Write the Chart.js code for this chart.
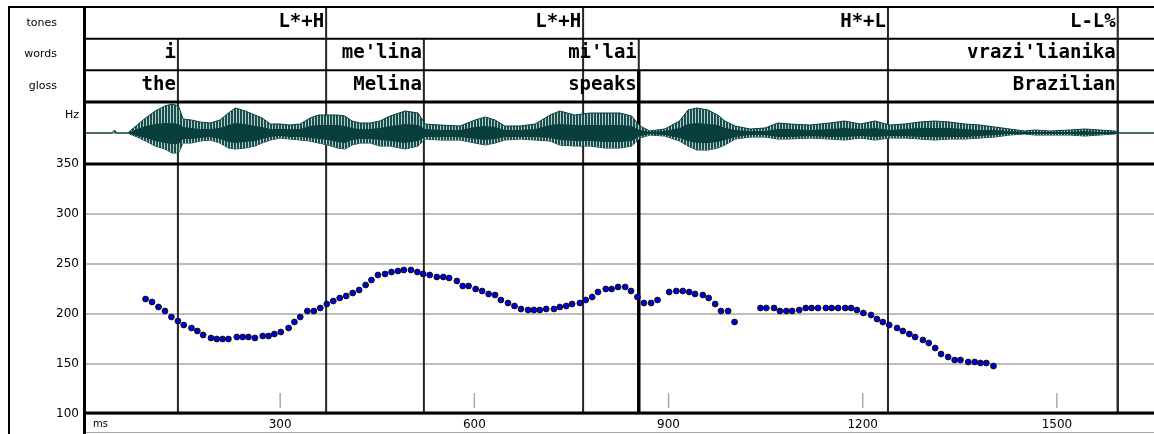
<!DOCTYPE html>
<html>
<head>
<meta charset="utf-8">
<script src="https://cdn.jsdelivr.net/npm/chart.js@4.4.0/dist/chart.umd.min.js"></script>
<style>
  body { margin: 0; background: #fff; }
  #wrap { width: 1154px; height: 434px; }
</style>
</head>
<body>
<div id="wrap"><canvas id="tobi" width="1154" height="434"></canvas></div>
<script>
// annotation tiers (label + end time in ms)
const tierNames = ['tones', 'words', 'gloss'];
const toneLabels = ['L*+H', 'L*+H', 'H*+L', 'L-L%'];
const toneEnds = [371, 768, 1239, 1594];
const wordLabels = ['i', "me'lina", "mi'lai", "vrazi'lianika"];
const wordEnds = [142, 522, 854, 1594];
const glossLabels = ['the', 'Melina', 'speaks', 'Brazilian'];
const glossEnds = [142, 522, 854, 1594];
const phraseBreak = 854;   // drawn heavier from the gloss tier down

// x axis
const msTicks = [300, 600, 900, 1200, 1500];
const hzTicks = [100, 150, 200, 250, 300, 350];

// pitch track
const pitchMs = [92,102,112,122,132,142,151,163,172,181,
  193,202,211,220,233,242,251,261,273,282,
  291,301,313,322,331,342,352,362,372,382,
  392,402,412,422,432,441,451,462,472,482,
  491,502,512,521,531,542,552,561,573,582,
  591,602,612,622,632,641,652,662,672,683,
  692,701,711,723,732,742,751,763,772,782,
  791,803,812,822,833,842,852,862,873,883,
  901,912,922,932,941,953,962,972,981,992,
  1002,1042,1051,1063,1072,1082,1091,1102,1112,1121,
  1131,1143,1152,1162,1173,1182,1191,1201,1213,1222,
  1231,1241,1253,1262,1272,1281,1293,1302,1312,1321,
  1332,1342,1351,1363,1373,1382,1391,1402];
const pitchHz = [215,212,207,203,197,193,189,186,183,179,
  176,175,175,175,177,177,177,176,178,178,
  180,182,186,192,197,203,203,206,210,213,
  216,218,221,224,229,234,239,240,242,243,
  244,244,242,240,239,237,237,236,233,228,
  228,225,223,220,219,214,211,208,205,204,
  204,204,205,205,207,208,210,211,214,217,
  222,225,225,227,227,223,217,211,211,214,
  222,223,223,222,220,219,216,210,203,203,
  192,206,206,206,203,203,203,204,206,206,
  206,206,206,206,206,206,204,201,199,195,
  192,189,186,183,180,177,174,171,166,160,
  157,154,154,152,152,151,151,148];

// waveform envelope (relative amplitude)
const waveMs = [0,40,44,48,65,68,79,92,107,122,
  133,143,150,163,176,192,207,220,231,246,
  261,272,285,300,315,331,346,359,374,389,
  400,411,423,439,454,470,493,513,524,547,
  578,601,617,632,647,671,694,717,732,755,
  779,802,825,843,856,871,894,917,930,944,
  961,976,987,1003,1026,1049,1069,1087,1118,1149,
  1172,1196,1219,1242,1265,1288,1311,1334,1358,1381,
  1404,1427,1450,1466,1489,1520,1543,1566,1589,1597,
  1650];
const wavePeakUp = [0,0,3,0,0,2,8,15,22,27,
  29,27,14,13,11,10,13,20,25,22,
  18,15,9,9,8,9,15,18,18,18,
  17,12,10,10,12,17,22,20,9,8,
  7,13,16,13,7,7,9,18,22,18,
  20,20,20,17,7,2,4,12,23,25,
  23,18,12,7,4,5,10,9,8,10,
  12,9,12,8,9,11,12,11,9,8,
  6,4,2,3,2,3,4,3,2,0,
  0];
const wavePeakDown = [0,0,0,0,0,-1,-4,-8,-13,-16,
  -20,-20,-10,-10,-8,-7,-10,-15,-16,-15,
  -13,-10,-7,-5,-6,-7,-8,-10,-12,-15,
  -16,-12,-10,-10,-13,-13,-16,-13,-6,-7,
  -7,-10,-12,-10,-7,-6,-7,-8,-12,-13,
  -13,-15,-15,-13,-5,-2,-3,-8,-13,-17,
  -17,-15,-12,-6,-4,-4,-6,-6,-5,-6,
  -7,-5,-7,-5,-5,-6,-7,-6,-6,-5,
  -4,-2,-1,-2,-2,-2,-3,-2,-1,0,
  0];
const waveCoreUp = [0,0,0,0,0,1,4,7,9,10,
  10,9,6,5,4,4,5,8,10,9,
  7,6,4,4,4,4,7,8,8,8,
  7,5,4,4,5,7,9,8,4,3,
  3,6,7,6,3,3,4,8,9,8,
  8,8,8,7,3,1,2,5,9,10,
  9,8,5,3,2,2,4,4,3,4,
  5,4,5,3,4,5,5,5,4,3,
  3,2,1,1,1,1,2,1,1,0,
  0];
const waveCoreDown = [0,0,0,0,0,-1,-3,-5,-8,-10,
  -11,-11,-6,-6,-5,-4,-6,-9,-10,-9,
  -8,-6,-4,-3,-4,-4,-5,-6,-7,-9,
  -10,-7,-6,-6,-7,-8,-10,-8,-4,-4,
  -4,-6,-7,-6,-4,-4,-4,-5,-7,-8,
  -8,-9,-9,-8,-3,-1,-2,-5,-8,-10,
  -10,-9,-7,-4,-2,-2,-4,-4,-3,-4,
  -4,-3,-4,-3,-3,-4,-4,-4,-4,-3,
  -2,-1,-1,-1,-1,-1,-2,-1,-1,0,
  0];

const pts = (xs, ys) => xs.map((v, i) => ({x: v, y: ys[i]}));

// striped fill for the glottal pulses
const stripe = document.createElement('canvas');
stripe.width = 3; stripe.height = 1;
const sctx = stripe.getContext('2d');
sctx.fillStyle = '#174f4c'; sctx.fillRect(0, 0, 2, 1);
sctx.fillStyle = '#b9cecd'; sctx.fillRect(2, 0, 1, 1);
const stripes = sctx.createPattern(stripe, 'repeat');

const waveColor = '#083f3d';

// fixed width for the stacked left axes, no auto padding
const fitLeft = s => { s.width = 78; s.paddingTop = 0; s.paddingBottom = 0; };

const frame = {
  id: 'frame',
  beforeDatasetsDraw(chart) {
    const {ctx, chartArea: a, scales} = chart;
    const x = scales.x, t = scales.yTier, p = scales.y, w = scales.yWave;
    const band = (t.bottom - t.top) / tierNames.length;
    ctx.save();
    const hline = (y, x0, x1, lw, col) => {
      ctx.beginPath(); ctx.lineWidth = lw; ctx.strokeStyle = col;
      ctx.moveTo(x0, y); ctx.lineTo(x1, y); ctx.stroke();
    };
    const vline = (xp, y0, y1, lw, col) => {
      ctx.beginPath(); ctx.lineWidth = lw; ctx.strokeStyle = col;
      ctx.moveTo(xp, y0); ctx.lineTo(xp, y1); ctx.stroke();
    };
    // tick marks for ms
    msTicks.forEach(v => vline(x.getPixelForValue(v), p.bottom - 21, p.bottom - 6, 1.5, '#a8a8a8'));
    // tone boundaries run the full height, word boundaries from words tier
    toneEnds.forEach(v => vline(x.getPixelForValue(v), a.top, p.bottom, 2, '#262626'));
    wordEnds.forEach(v => vline(x.getPixelForValue(v), t.top + band, p.bottom, 2, '#262626'));
    vline(x.getPixelForValue(phraseBreak), t.top + 2 * band, p.bottom, 3.5, '#000');
    // horizontal rules
    hline(a.top, 8, a.right, 2, '#000');
    hline(t.top + band, a.left, a.right, 2, '#000');
    hline(t.top + 2 * band, a.left, a.right, 2, '#000');
    hline(w.top, a.left, a.right, 3, '#000');
    hline(p.top, a.left, a.right, 3, '#000');
    hline(p.bottom - 1, a.left, a.right, 3, '#000');
    hline(chart.height - 1.5, a.left, a.right, 1, '#a8a8a8');
    vline(9, a.top - 1, chart.height, 2, '#000');
    vline(a.left - 1.5, a.top - 1, chart.height, 3, '#000');
    ctx.restore();
  },
  afterDraw(chart) {
    const {ctx, scales} = chart;
    const x = scales.x, t = scales.yTier, p = scales.y;
    ctx.save();
    ctx.fillStyle = '#000';
    ctx.textAlign = 'right';
    ctx.textBaseline = 'middle';
    ctx.font = 'bold 19px "DejaVu Sans Mono"';
    [[toneLabels, toneEnds], [wordLabels, wordEnds], [glossLabels, glossEnds]].forEach(([labs, ends], row) => {
      const yc = t.getPixelForValue(row) - 1;
      labs.forEach((s, i) => ctx.fillText(s, x.getPixelForValue(ends[i]) - 2, yc));
    });
    ctx.font = '10px "DejaVu Sans"';
    ctx.textAlign = 'left';
    ctx.fillText('ms', x.left + 7, p.bottom + 10);
    ctx.restore();
  }
};

new Chart(document.getElementById('tobi'), {
  type: 'scatter',
  data: {
    datasets: [
      {
        label: 'F0',
        data: pts(pitchMs, pitchHz),
        yAxisID: 'y',
        pointRadius: 2.9,
        pointBackgroundColor: '#0000d8',
        pointBorderColor: '#111',
        pointBorderWidth: 1
      },
      {
        type: 'line', data: pts(waveMs, waveCoreUp), yAxisID: 'yWave',
        borderWidth: 0, pointRadius: 0, fill: '+1', backgroundColor: waveColor
      },
      {
        type: 'line', data: pts(waveMs, waveCoreDown), yAxisID: 'yWave',
        borderWidth: 0, pointRadius: 0, fill: false
      },
      {
        type: 'line', data: pts(waveMs, wavePeakUp), yAxisID: 'yWave',
        borderWidth: 1, borderColor: waveColor, pointRadius: 0, fill: '+1', backgroundColor: stripes
      },
      {
        type: 'line', data: pts(waveMs, wavePeakDown), yAxisID: 'yWave',
        borderWidth: 1, borderColor: waveColor, pointRadius: 0, fill: false
      }
    ]
  },
  options: {
    responsive: false,
    animation: false,
    devicePixelRatio: 1,
    layout: { padding: { left: 8, top: 7, right: 0, bottom: 0 }, autoPadding: false },
    plugins: { legend: { display: false }, tooltip: { enabled: false } },
    scales: {
      x: {
        type: 'linear', min: 0, max: 1650,
        grid: { display: false, drawTicks: false },
        border: { display: false },
        afterBuildTicks: s => { s.ticks = msTicks.map(v => ({value: v})); },
        afterFit: s => { s.height = 20; s.paddingLeft = 0; s.paddingRight = 0; },
        ticks: { color: '#000', font: { family: 'DejaVu Sans', size: 12 }, padding: 4, maxRotation: 0,
                 callback: v => String(v) }
      },
      y: {
        type: 'linear', position: 'left', stack: 'v', stackWeight: 250,
        min: 100, max: 350,
        afterBuildTicks: s => { s.ticks = hzTicks.map(v => ({value: v})); },
        afterFit: fitLeft,
        grid: { color: '#bdbdbd', lineWidth: 2, drawTicks: false },
        border: { display: false },
        ticks: { color: '#000', font: { family: 'DejaVu Sans', size: 12 }, padding: 7 }
      },
      yWave: {
        type: 'linear', position: 'left', stack: 'v', stackWeight: 62,
        min: -31, max: 31,
        afterBuildTicks: s => { s.ticks = [{value: 18}]; },
        afterFit: fitLeft,
        grid: { display: false, drawTicks: false },
        border: { display: false },
        ticks: { color: '#000', font: { family: 'DejaVu Sans', size: 11 }, padding: 7, callback: () => 'Hz' }
      },
      yTier: {
        type: 'category', position: 'left', stack: 'v', stackWeight: 95,
        labels: tierNames, offset: true,
        afterFit: fitLeft,
        grid: { display: false, drawTicks: false },
        border: { display: false },
        ticks: { color: '#000', font: { family: 'DejaVu Sans', size: 11 }, padding: 29 }
      }
    }
  },
  plugins: [frame]
});
</script>
</body>
</html>
